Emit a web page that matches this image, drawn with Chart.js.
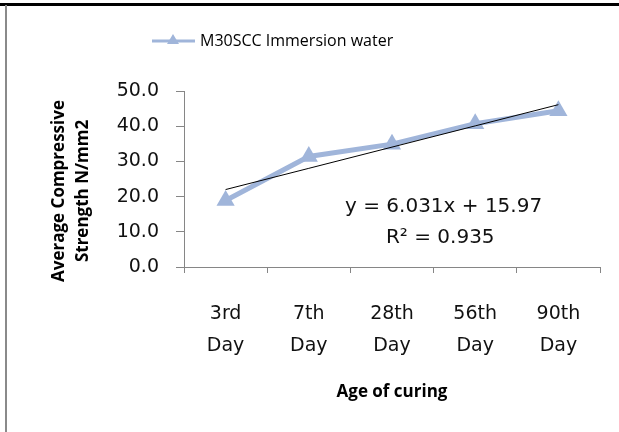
<!DOCTYPE html>
<html>
<head>
<meta charset="utf-8">
<script src="https://cdn.jsdelivr.net/npm/chart.js@4.4.0/dist/chart.umd.min.js"></script>
<style>
  html, body { margin: 0; padding: 0; background: #fff; overflow: hidden; }
  #strengthChart { display: block; }
</style>
</head>
<body>
<canvas id="strengthChart" width="619" height="432"></canvas>
<script>
// Chart data
const categories = [['3rd', 'Day'], ['7th', 'Day'], ['28th', 'Day'], ['56th', 'Day'], ['90th', 'Day']];
const strength = [18.9, 31.4, 34.9, 40.7, 44.4];
const yTicks = [0, 10, 20, 30, 40, 50];
const seriesName = 'M30SCC Immersion water';
const yTitle = ['Average Compressive', 'Strength N/mm2'];
const xTitle = 'Age of curing';
const trendLabel = ['y = 6.031x + 15.97', 'R² = 0.935'];

const seriesColor = '#a0b5da';
const axisColor = '#868686';

// linear trendline (least squares over x = 1..n)
const xs = strength.map((v, i) => i + 1);
const mx = xs.reduce((a, b) => a + b, 0) / xs.length;
const my = strength.reduce((a, b) => a + b, 0) / strength.length;
let sxy = 0, sxx = 0;
xs.forEach((x, i) => { sxy += (x - mx) * (strength[i] - my); sxx += (x - mx) * (x - mx); });
const slope = sxy / sxx;
const intercept = my - slope * mx;
const trend = xs.map(x => intercept + slope * x);

// page frame (cell border of the document the chart sits in)
const framePlugin = {
  id: 'frame',
  beforeDraw(chart) {
    const ctx = chart.ctx;
    ctx.save();
    ctx.fillStyle = '#fff';
    ctx.fillRect(0, 0, chart.width, chart.height);
    ctx.fillStyle = '#000';
    ctx.fillRect(0, 3, chart.width, 3);
    ctx.fillStyle = '#8a8a8a';
    ctx.fillRect(5, 5, 2, chart.height - 5);
    ctx.restore();
  }
};

// legend, y axis title and equation drawn on the canvas
const extrasPlugin = {
  id: 'extras',
  afterDraw(chart) {
    const ctx = chart.ctx;
    const x = chart.scales.x, y = chart.scales.y;
    ctx.save();

    // legend
    ctx.strokeStyle = seriesColor;
    ctx.lineWidth = 3;
    ctx.beginPath();
    ctx.moveTo(152, 41);
    ctx.lineTo(195, 41);
    ctx.stroke();
    ctx.fillStyle = seriesColor;
    ctx.beginPath();
    ctx.moveTo(173, 34); ctx.lineTo(179, 44); ctx.lineTo(167, 44); ctx.closePath();
    ctx.fill();
    ctx.fillStyle = '#000';
    ctx.font = '16px "Open Sans"';
    ctx.textAlign = 'left';
    ctx.textBaseline = 'middle';
    ctx.fillText(seriesName, 200, 41);

    // y axis title
    ctx.font = 'bold 17px "Open Sans"';
    ctx.textAlign = 'center';
    yTitle.forEach((line, i) => {
      ctx.save();
      ctx.translate(59.5 + i * 24, 191);
      ctx.rotate(-Math.PI / 2);
      ctx.fillText(line, 0, 0);
      ctx.restore();
    });

    // trendline equation
    ctx.font = '20px "DejaVu Sans"';
    ctx.fillStyle = '#111';
    ctx.fillText(trendLabel[0], x.getPixelForValue(2.62), y.getPixelForValue(17.1));
    ctx.fillText(trendLabel[1], x.getPixelForValue(2.58), y.getPixelForValue(8.3));
    ctx.restore();
  }
};

new Chart(document.getElementById('strengthChart'), {
  type: 'line',
  data: {
    labels: categories,
    datasets: [{
      label: 'Linear trend',
      data: trend,
      borderColor: '#000',
      borderWidth: 1,
      pointRadius: 0,
      tension: 0,
      order: 0
    }, {
      label: seriesName,
      data: strength,
      borderColor: seriesColor,
      backgroundColor: seriesColor,
      borderWidth: 5,
      pointStyle: 'triangle',
      pointRadius: 10.5,
      pointBorderWidth: 0,
      pointBackgroundColor: seriesColor,
      tension: 0,
      order: 1
    }]
  },
  options: {
    responsive: false,
    animation: false,
    layout: { padding: { top: 91, right: 19, bottom: 30, left: 0 } },
    plugins: {
      legend: { display: false },
      tooltip: { enabled: false }
    },
    scales: {
      x: {
        offset: true,
        grid: { offset: true, drawOnChartArea: false, tickLength: 6, color: axisColor },
        border: { color: axisColor },
        ticks: {
          color: '#111',
          padding: 25,
          font: { family: 'DejaVu Sans', size: 19, lineHeight: 1.7 },
          maxRotation: 0
        },
        title: {
          display: true,
          text: xTitle,
          color: '#000',
          font: { family: 'Open Sans', size: 17, weight: 'bold', lineHeight: 1.2 },
          padding: { top: 0, bottom: 0 }
        },
        afterFit: s => { s.height = 135; }
      },
      y: {
        min: 0,
        max: 50,
        afterBuildTicks: s => { s.ticks = yTicks.map(v => ({ value: v })); },
        grid: { drawOnChartArea: false, tickLength: 8, color: axisColor },
        border: { color: axisColor },
        ticks: {
          color: '#111',
          padding: 17,
          font: { family: 'DejaVu Sans', size: 19 },
          callback: v => v.toFixed(1)
        },
        afterFit: s => { s.width = 184; }
      }
    }
  },
  plugins: [framePlugin, extrasPlugin]
});
</script>
</body>
</html>
